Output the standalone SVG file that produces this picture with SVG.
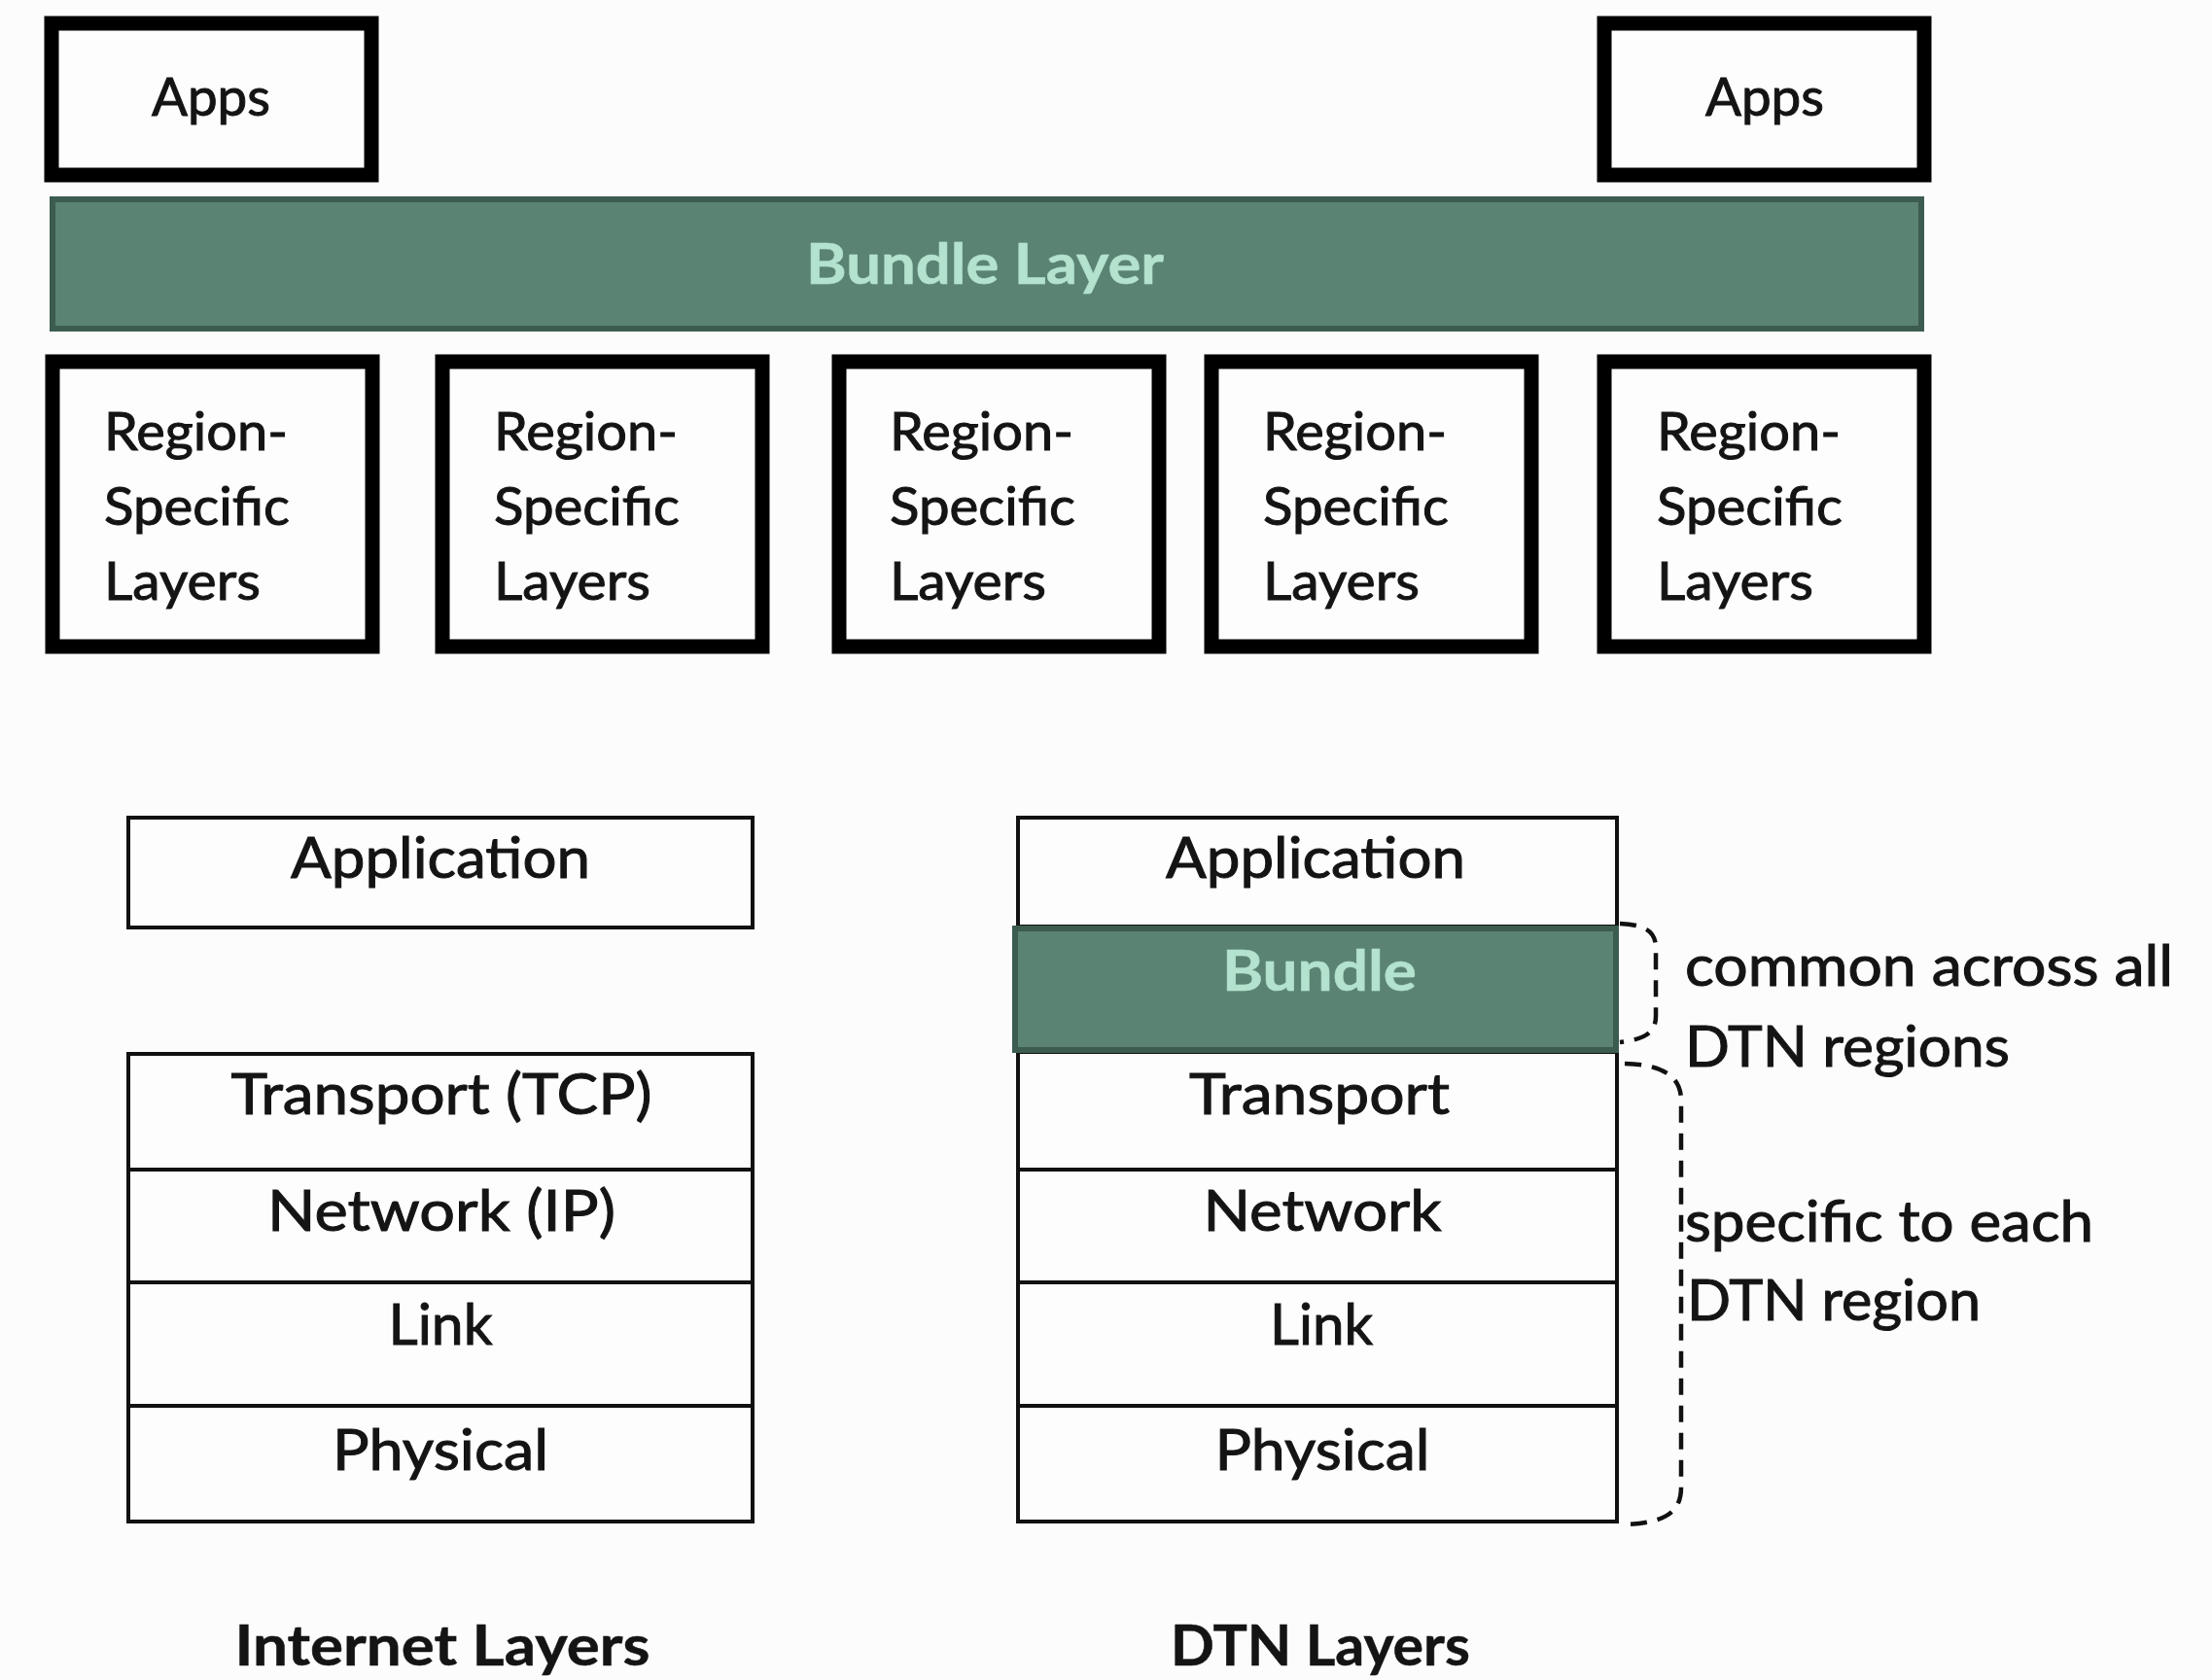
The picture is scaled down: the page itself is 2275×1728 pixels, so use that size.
<svg xmlns="http://www.w3.org/2000/svg" width="2275" height="1728" viewBox="0 0 2275 1728">
<style>
  text { font-family: Lato, "Liberation Sans", sans-serif; fill: #141414; stroke: #141414; stroke-width: 1; }
  .big { font-size: 58px; }
  .mid { font-size: 55px; }
  .bold { font-weight: bold; stroke-width: 0.5; }
  .mint { fill: #b3e2cf; stroke: #b3e2cf; }
  .thick { fill: #fdfdfd; stroke: #000; stroke-width: 15; }
  .thin { fill: #fdfdfd; stroke: #111; stroke-width: 4; }
  .green { fill: #5b8374; stroke: #3b5c4e; stroke-width: 6; }
  .brace { fill: none; stroke: #111; stroke-width: 4.5; stroke-dasharray: 17 11; }
</style>
<rect width="2275" height="1728" fill="#fcfcfc"/>

<g id="apps-left">
  <rect class="thick" x="53" y="24" width="329" height="156"/>
  <text class="mid" x="217" y="119" text-anchor="middle" textLength="122" lengthAdjust="spacingAndGlyphs">Apps</text>
</g>
<g id="apps-right">
  <rect class="thick" x="1650" y="24" width="329" height="156"/>
  <text class="mid" x="1815" y="119" text-anchor="middle" textLength="122" lengthAdjust="spacingAndGlyphs">Apps</text>
</g>

<g id="bundle-layer">
  <rect class="green" x="54" y="205" width="1922" height="133"/>
  <text class="big bold mint" x="1013" y="292" text-anchor="middle" textLength="368" lengthAdjust="spacingAndGlyphs">Bundle Layer</text>
</g>

<g id="region-1">
  <rect class="thick" x="54" y="372" width="329" height="293"/>
  <text class="mid" x="107" y="463" textLength="189" lengthAdjust="spacingAndGlyphs">Region-</text>
  <text class="mid" x="107" y="540" textLength="191" lengthAdjust="spacingAndGlyphs">Specific</text>
  <text class="mid" x="107" y="617" textLength="161" lengthAdjust="spacingAndGlyphs">Layers</text>
</g>
<g id="region-2">
  <rect class="thick" x="455" y="372" width="329" height="293"/>
  <text class="mid" x="508" y="463" textLength="189" lengthAdjust="spacingAndGlyphs">Region-</text>
  <text class="mid" x="508" y="540" textLength="191" lengthAdjust="spacingAndGlyphs">Specific</text>
  <text class="mid" x="508" y="617" textLength="161" lengthAdjust="spacingAndGlyphs">Layers</text>
</g>
<g id="region-3">
  <rect class="thick" x="863" y="372" width="329" height="293"/>
  <text class="mid" x="915" y="463" textLength="189" lengthAdjust="spacingAndGlyphs">Region-</text>
  <text class="mid" x="915" y="540" textLength="191" lengthAdjust="spacingAndGlyphs">Specific</text>
  <text class="mid" x="915" y="617" textLength="161" lengthAdjust="spacingAndGlyphs">Layers</text>
</g>
<g id="region-4">
  <rect class="thick" x="1246" y="372" width="329" height="293"/>
  <text class="mid" x="1299" y="463" textLength="189" lengthAdjust="spacingAndGlyphs">Region-</text>
  <text class="mid" x="1299" y="540" textLength="191" lengthAdjust="spacingAndGlyphs">Specific</text>
  <text class="mid" x="1299" y="617" textLength="161" lengthAdjust="spacingAndGlyphs">Layers</text>
</g>
<g id="region-5">
  <rect class="thick" x="1650" y="372" width="329" height="293"/>
  <text class="mid" x="1704" y="463" textLength="189" lengthAdjust="spacingAndGlyphs">Region-</text>
  <text class="mid" x="1704" y="540" textLength="191" lengthAdjust="spacingAndGlyphs">Specific</text>
  <text class="mid" x="1704" y="617" textLength="161" lengthAdjust="spacingAndGlyphs">Layers</text>
</g>

<g id="internet-stack">
  <g id="inet-application">
    <rect class="thin" x="132" y="841" width="642" height="113"/>
    <text class="big" x="453" y="903" text-anchor="middle" textLength="308" lengthAdjust="spacingAndGlyphs">Application</text>
  </g>
  <g id="inet-transport">
    <rect class="thin" x="132" y="1084" width="642" height="119"/>
    <text class="big" x="454" y="1146" text-anchor="middle" textLength="433" lengthAdjust="spacingAndGlyphs">Transport (TCP)</text>
  </g>
  <g id="inet-network">
    <rect class="thin" x="132" y="1203" width="642" height="116"/>
    <text class="big" x="454" y="1266" text-anchor="middle" textLength="358" lengthAdjust="spacingAndGlyphs">Network (IP)</text>
  </g>
  <g id="inet-link">
    <rect class="thin" x="132" y="1319" width="642" height="127"/>
    <text class="big" x="453" y="1383" text-anchor="middle" textLength="107" lengthAdjust="spacingAndGlyphs">Link</text>
  </g>
  <g id="inet-physical">
    <rect class="thin" x="132" y="1446" width="642" height="119"/>
    <text class="big" x="453" y="1512" text-anchor="middle" textLength="222" lengthAdjust="spacingAndGlyphs">Physical</text>
  </g>
  <text class="big bold" x="455" y="1713" text-anchor="middle" textLength="427" lengthAdjust="spacingAndGlyphs">Internet Layers</text>
</g>

<g id="dtn-stack">
  <g id="dtn-application">
    <rect class="thin" x="1047" y="841" width="616" height="112"/>
    <text class="big" x="1353" y="903" text-anchor="middle" textLength="308" lengthAdjust="spacingAndGlyphs">Application</text>
  </g>
  <g id="dtn-transport">
    <rect class="thin" x="1047" y="1082" width="616" height="121"/>
    <text class="big" x="1357" y="1146" text-anchor="middle" textLength="268" lengthAdjust="spacingAndGlyphs">Transport</text>
  </g>
  <g id="dtn-network">
    <rect class="thin" x="1047" y="1203" width="616" height="116"/>
    <text class="big" x="1360" y="1266" text-anchor="middle" textLength="245" lengthAdjust="spacingAndGlyphs">Network</text>
  </g>
  <g id="dtn-link">
    <rect class="thin" x="1047" y="1319" width="616" height="127"/>
    <text class="big" x="1359" y="1383" text-anchor="middle" textLength="106" lengthAdjust="spacingAndGlyphs">Link</text>
  </g>
  <g id="dtn-physical">
    <rect class="thin" x="1047" y="1446" width="616" height="119"/>
    <text class="big" x="1360" y="1512" text-anchor="middle" textLength="221" lengthAdjust="spacingAndGlyphs">Physical</text>
  </g>
  <g id="dtn-bundle">
    <rect class="green" x="1044" y="955" width="618" height="125" stroke-width="5"/>
    <text class="big bold mint" x="1357" y="1019" text-anchor="middle" textLength="200" lengthAdjust="spacingAndGlyphs">Bundle</text>
  </g>
  <text class="big bold" x="1358" y="1713" text-anchor="middle" textLength="308" lengthAdjust="spacingAndGlyphs">DTN Layers</text>
</g>

<g id="connectors">
  <path class="brace" d="M1666,950 C1692,951 1703,958 1703,975 L1703,1045 C1703,1062 1692,1069 1666,1072"/>
  <path class="brace" d="M1671,1094 C1712,1095 1729,1108 1729,1132 L1729,1530 C1729,1556 1712,1566 1672,1568"/>
</g>

<g id="labels">
  <text class="big" x="1733" y="1014" textLength="502" lengthAdjust="spacingAndGlyphs">common across all</text>
  <text class="big" x="1733" y="1097" textLength="334" lengthAdjust="spacingAndGlyphs">DTN regions</text>
  <text class="big" x="1733" y="1277" textLength="420" lengthAdjust="spacingAndGlyphs">specific to each</text>
  <text class="big" x="1735" y="1358" textLength="302" lengthAdjust="spacingAndGlyphs">DTN region</text>
</g>
</svg>
